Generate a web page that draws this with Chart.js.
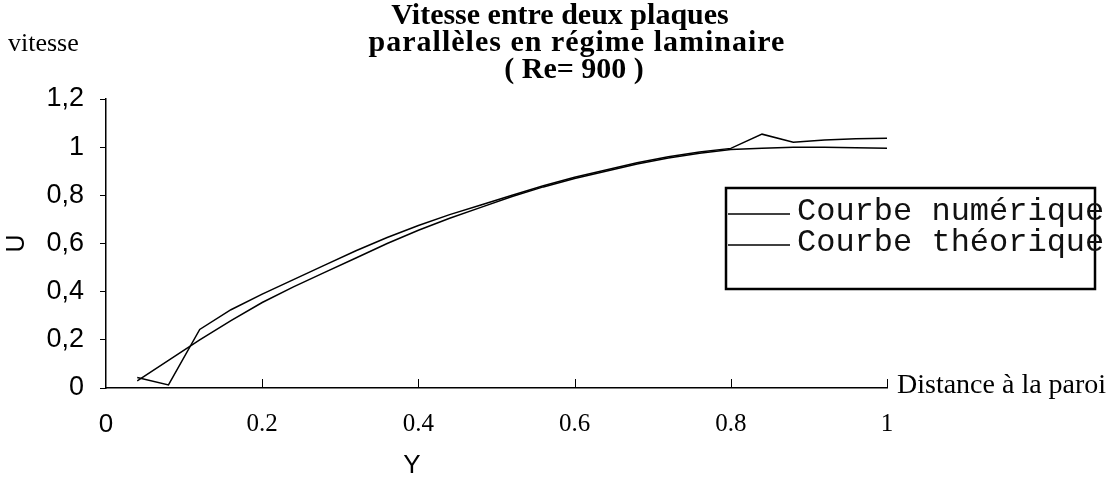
<!DOCTYPE html>
<html>
<head>
<meta charset="utf-8">
<script src="https://cdn.jsdelivr.net/npm/chart.js@4"></script>
<style>
  html, body { margin: 0; padding: 0; background: #fff; }
  #wrap { width: 1114px; height: 482px; }
</style>
</head>
<body>
<div id="wrap"><canvas id="myChart" width="1114" height="482"></canvas></div>
<script>
// distance a la paroi
var posY = [0.04, 0.08, 0.12, 0.16, 0.2, 0.24, 0.28, 0.32, 0.36, 0.4, 0.44, 0.48, 0.52,
  0.56, 0.6, 0.64, 0.68, 0.72, 0.76, 0.8, 0.84, 0.88, 0.92, 0.96, 1.0];
var numerique = [0.044, 0.013, 0.243, 0.325, 0.39, 0.45, 0.51, 0.57, 0.625, 0.675, 0.72, 0.76, 0.80,
  0.84, 0.875, 0.905, 0.935, 0.96, 0.98, 0.995, 1.054, 1.02, 1.03, 1.035, 1.037];
var theorique = [0.03, 0.115, 0.2, 0.28, 0.355, 0.42, 0.48, 0.54, 0.6, 0.655, 0.705, 0.75, 0.795,
  0.835, 0.87, 0.9, 0.93, 0.955, 0.975, 0.99, 0.996, 1.0, 1.0, 0.998, 0.995];
var xTickLabels = ["0", "0.2", "0.4", "0.6", "0.8", "1"];
var yTickLabels = ["0", "0,2", "0,4", "0,6", "0,8", "1", "1,2"];
var titleLines = ["Vitesse entre deux plaques", "parallèles en régime laminaire", "( Re= 900 )"];

function pts(ys) {
  return posY.map(function (x, i) { return { x: x, y: ys[i] }; });
}

var textPlugin = {
  id: "textPlugin",
  afterDraw: function (chart) {
    var c = chart.ctx;
    var xs = chart.scales.x;
    var bottom = chart.chartArea.bottom;
    c.save();
    c.fillStyle = "#000";
    c.textBaseline = "middle";
    c.textAlign = "center";
    c.font = "bold 30px 'Liberation Serif'";
    c.fillText(titleLines[0], 560, 16);
    c.letterSpacing = "1px";
    c.fillText(titleLines[1], 577, 43);
    c.letterSpacing = "0px";
    c.fillText(titleLines[2], 574, 70);

    c.font = "26px 'Liberation Sans'";
    c.fillText("Y", 412, 466);

    c.textAlign = "left";
    c.font = "26px 'Liberation Serif'";
    c.fillText("vitesse", 8, 44);
    c.font = "28px 'Liberation Serif'";
    c.fillText("Distance à la paroi", 897, bottom - 2);

    // ticks vers l'interieur sur l'axe x
    c.strokeStyle = "#000";
    c.lineWidth = 1;
    for (var i = 1; i < xTickLabels.length; i++) {
      var px = Math.round(xs.getPixelForValue(i * 0.2)) + 0.5;
      c.beginPath();
      c.moveTo(px, bottom);
      c.lineTo(px, bottom - 9);
      c.stroke();
    }

    // legende
    c.lineWidth = 2.5;
    c.strokeRect(726, 188, 369, 101);
    c.font = "32px 'Liberation Mono'";
    c.fillStyle = "#111";
    var ds = chart.data.datasets;
    var rows = [212, 243];
    for (var k = 0; k < ds.length; k++) {
      c.lineWidth = 1.5;
      c.beginPath();
      c.moveTo(728, rows[k] + 2);
      c.lineTo(790, rows[k] + 2);
      c.stroke();
      c.fillText(ds[k].label, 797, rows[k]);
    }
    c.restore();
  }
};

var ctx = document.getElementById("myChart").getContext("2d");

var data = {
  datasets: [
    {
      label: "Courbe numérique",
      data: pts(numerique),
      borderColor: "#000",
      borderWidth: 1.5,
      pointRadius: 0,
      tension: 0,
    },
    {
      label: "Courbe théorique",
      data: pts(theorique),
      borderColor: "#000",
      borderWidth: 1.5,
      pointRadius: 0,
      tension: 0,
    },
  ],
};

var options = {
  responsive: false,
  animation: false,
  layout: { padding: { left: 0, top: 99, right: 227, bottom: 0 } },
  plugins: {
    legend: { display: false },
    tooltip: { enabled: false },
  },
  scales: {
    x: {
      type: "linear",
      min: 0,
      max: 1,
      afterFit: function (s) { s.height = 94; },
      border: { display: true, color: "#000", width: 1.5 },
      grid: { drawOnChartArea: false, drawTicks: false },
      ticks: {
        stepSize: 0.2,
        padding: 21,
        color: "#000",
        maxRotation: 0,
        font: function (c) {
          if (c.tick && c.tick.value === 0) return { family: "'Liberation Sans'", size: 26 };
          return { family: "'Liberation Serif'", size: 25 };
        },
        callback: function (v) { return xTickLabels[Math.round(v / 0.2)]; },
      },
    },
    y: {
      min: 0,
      max: 1.2,
      afterFit: function (s) { s.width = 106; },
      border: { display: true, color: "#000", width: 1.5 },
      grid: { drawOnChartArea: false, drawTicks: true, tickLength: 6, color: "#000" },
      ticks: {
        stepSize: 0.2,
        padding: 16,
        color: "#000",
        font: { family: "'Liberation Sans'", size: 27 },
        callback: function (v) { return yTickLabels[Math.round(v / 0.2)]; },
      },
      title: {
        display: true,
        text: "U",
        color: "#000",
        font: { family: "'Liberation Sans'", size: 25 },
        padding: { top: 2, bottom: 0 },
      },
    },
  },
};

new Chart(ctx, {
  type: "line",
  data: data,
  options: options,
  plugins: [textPlugin],
});
</script>
</body>
</html>
